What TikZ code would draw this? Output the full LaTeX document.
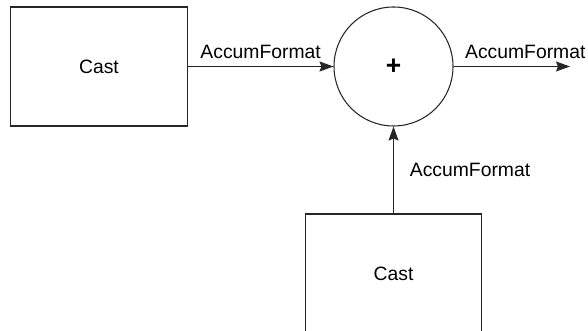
\documentclass[tikz,border=0pt]{standalone}
\usepackage{fontspec}
\setmainfont{Liberation Sans}
\usepackage{tikz}
\usetikzlibrary{positioning,arrows.meta}

\begin{document}
\begin{tikzpicture}[
    every node/.style={font=\fontsize{11}{13}\selectfont},
    box/.style={draw=black!85, line width=0.6pt, minimum height=2.38cm,
                minimum width=3.53cm, align=center, inner sep=2pt},
    sumnode/.style={draw=black!85, line width=0.6pt, circle, minimum size=2.38cm, inner sep=0pt,
                    font=\fontsize{15}{17}\selectfont\bfseries},
    arr/.style={-{Stealth[length=0.28cm, width=0.2cm, inset=0.04cm]}, line width=0.6pt, draw=black!85},
]
\useasboundingbox (0,0) rectangle (11.76,-6.62);
\node[box] (cast1) at (1.98, -1.33) {Cast};
\node[sumnode] (sum) at (7.87, -1.33) {+};
\node[box] (cast2) at (7.87, -5.47) {Cast};
\coordinate (out) at (11.40, -1.33);
\draw[arr] (cast1.east) -- node[above=1pt] {AccumFormat} (sum.west);
\draw[arr] (sum.east) -- node[above=1pt, xshift=0.27cm] {AccumFormat} (out);
\draw[arr] (cast2.north) -- node[right=0.2cm] {AccumFormat} (sum.south);
\end{tikzpicture}
\end{document}
